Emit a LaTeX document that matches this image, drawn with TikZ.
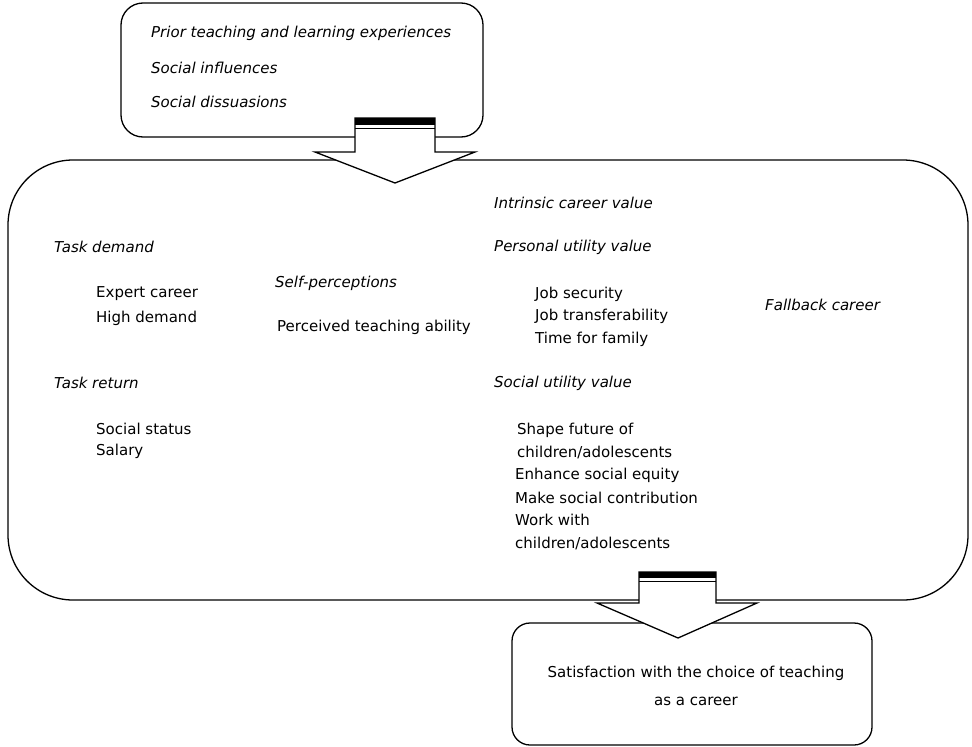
\documentclass[tikz,border=0pt]{standalone}
\usepackage{fontspec}
\setmainfont{DejaVu Sans}
\usepackage{tikz}
\usetikzlibrary{calc}

\begin{document}
\begin{tikzpicture}[x=1pt,y=-1pt,font=\fontsize{15}{18}\selectfont,
 box/.style={draw,line width=1.3pt},
 hd/.style={anchor=west,inner sep=0pt,font=\fontsize{15}{18}\selectfont\itshape},
 it/.style={anchor=west,inner sep=0pt},
 blk/.style={draw,fill=white,line width=1.3pt,line join=miter}]
\useasboundingbox (0,0) rectangle (972,747);
% boxes
\draw[box,rounded corners=22pt] (121,3) rectangle (483,137);
\draw[box,rounded corners=65pt] (8,160) rectangle (968,600);
\draw[box,rounded corners=18pt] (512,623) rectangle (872,745);
% top box
\node[hd] (prior) at (151,33)  {Prior teaching and learning experiences};
\node[hd] (infl)  at (151,68)  {Social influences};
\node[hd] (diss)  at (151,102) {Social dissuasions};
% arrow into the big box
\draw[blk] (355,118) -- (355,152) -- (315,152) -- (395,183) -- (475,152) -- (435,152) -- (435,118) -- cycle;
\fill (355,118) rectangle (435,125);
\draw[line width=1pt] (355,128) -- (435,128);
% big box, left column
\node[hd] (tdem) at (54,247)  {Task demand};
\node[it] (exp)  at (96,294)  {Expert career};
\node[it] (high) at (96,318)  {High demand};
\node[hd] (tret) at (54,383)  {Task return};
\node[it] (stat) at (96,429)  {Social status};
\node[it] (sal)  at (96,451)  {Salary};
% middle column
\node[hd] (self) at (275,283) {Self-perceptions};
\node[it] (abil) at (277,327) {Perceived teaching ability};
% right column
\node[hd] (intr) at (494,203) {Intrinsic career value};
\node[hd] (pers) at (494,247) {Personal utility value};
\node[it] (sec)  at (535,294) {Job security};
\node[it] (trf)  at (535,316) {Job transferability};
\node[it] (fam)  at (535,339) {Time for family};
\node[hd] (fall) at (765,305) {Fallback career};
\node[hd] (soc)  at (494,383) {Social utility value};
\node[it] (shp1) at (517,430) {Shape future of};
\node[it] (shp2) at (517,452) {children/adolescents};
\node[it] (eq)   at (515,475) {Enhance social equity};
\node[it] (con)  at (515,498) {Make social contribution};
\node[it] (wrk1) at (515,520) {Work with};
\node[it] (wrk2) at (515,543) {children/adolescents};
% arrow out of the big box
\draw[blk] (639,572) -- (639,603) -- (597,603) -- (678,638) -- (757,603) -- (716,603) -- (716,572) -- cycle;
\fill (639,572) rectangle (716,578);
\draw[line width=1pt] (639,581) -- (716,581);
% bottom box
\node[align=center,inner sep=0pt] (sat) at (696,686)
 {Satisfaction with the choice of teaching\\[10pt]as a career};
\end{tikzpicture}
\end{document}
